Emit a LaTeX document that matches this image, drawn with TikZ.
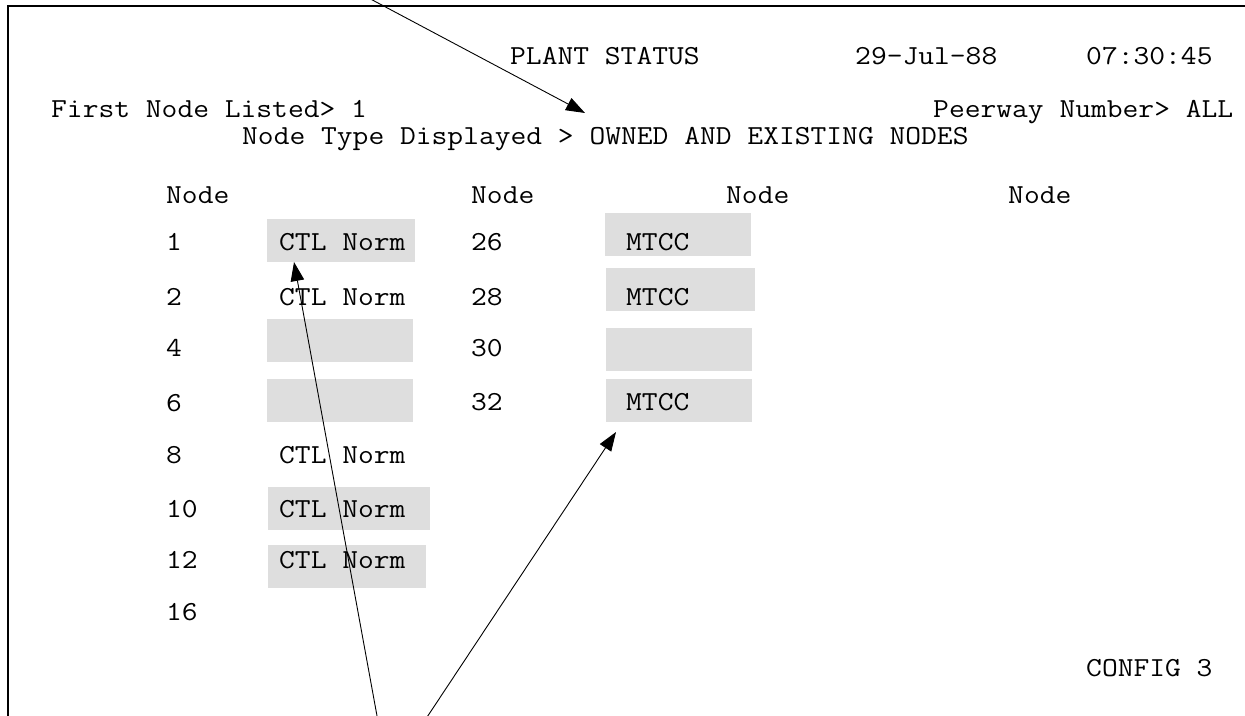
\documentclass[tikz,border=0pt]{standalone}
\usepackage{fontspec}
\newfontfamily\crtfont[FakeStretch=1.115]{Latin Modern Mono}
\usetikzlibrary{arrows.meta}
\definecolor{boxgray}{RGB}{222,222,222}
\tikzset{
  txt/.style={inner sep=0pt, anchor=base west, font=\fontsize{27.5}{32}\crtfont},
  gbox/.style={fill=boxgray, draw=none, inner sep=0pt, anchor=north west},
  conn/.style={line width=0.9pt, -{Triangle[length=19pt,width=13.5pt]}},
  frameline/.style={line width=1.2pt}
}
\begin{document}
\begin{tikzpicture}[x=1pt,y=-1pt]
\useasboundingbox (0,0) rectangle (1245,715);
\clip (0,0) rectangle (1245,715);
\fill[white] (0,0) rectangle (1245,715);
% frame (cut off at right and bottom)
\draw[frameline] (8,760) -- (8,6) -- (1260,6);
% grey boxes
\node[gbox, minimum width=148pt, minimum height=43pt] (c1box) at (267,219) {};
\node[gbox, minimum width=146pt, minimum height=43pt] (c4box) at (267,319) {};
\node[gbox, minimum width=146pt, minimum height=43pt] (c6box) at (267,379) {};
\node[gbox, minimum width=162pt, minimum height=43pt] (c10box) at (268,487) {};
\node[gbox, minimum width=158pt, minimum height=43pt] (c12box) at (268,545) {};
\node[gbox, minimum width=146pt, minimum height=43pt] (m26box) at (605,213) {};
\node[gbox, minimum width=149pt, minimum height=43pt] (m28box) at (606,268) {};
\node[gbox, minimum width=146pt, minimum height=43pt] (m30box) at (606,328) {};
\node[gbox, minimum width=146pt, minimum height=43pt] (m32box) at (606,379) {};
% header texts
\node[txt] (plant) at (510,64) {PLANT STATUS};
\node[txt] (date) at (855,64) {29-Jul-88};
\node[txt] (time) at (1086,64) {07:30:45};
\node[txt] (first) at (51,117) {First Node Listed> 1};
\node[txt] (peer) at (933,117) {Peerway Number> ALL};
\node[txt] (ntype) at (242,144) {Node Type Displayed > OWNED AND EXISTING NODES};
% column headers
\node[txt] (h1) at (166,203) {Node};
\node[txt] (h2) at (471,203) {Node};
\node[txt] (h3) at (726,203) {Node};
\node[txt] (h4) at (1008,203) {Node};
% column 1 numbers
\node[txt] (n1) at (166,250) {1};
\node[txt] (n2) at (166,305) {2};
\node[txt] (n4) at (166,356) {4};
\node[txt] (n6) at (166,411) {6};
\node[txt] (n8) at (166,463) {8};
\node[txt] (n10) at (166,517) {10};
\node[txt] (n12) at (166,568) {12};
\node[txt] (n16) at (166,620) {16};
% column 1 status
\node[txt] (s1) at (279,250) {CTL Norm};
\node[txt] (s2) at (279,305) {CTL Norm};
\node[txt] (s8) at (279,463) {CTL Norm};
\node[txt] (s10) at (279,517) {CTL Norm};
\node[txt] (s12) at (279,568) {CTL Norm};
% column 2 numbers
\node[txt] (n26) at (471,250) {26};
\node[txt] (n28) at (471,305) {28};
\node[txt] (n30) at (471,356) {30};
\node[txt] (n32) at (471,410) {32};
% column 2 status
\node[txt] (s26) at (626,250) {MTCC};
\node[txt] (s28) at (626,305) {MTCC};
\node[txt] (s32) at (626,410) {MTCC};
% footer
\node[txt] (config) at (1086,676) {CONFIG 3};
% callout arrows
\coordinate (srctop) at (331,-22);
\coordinate (tiptop) at (585,113);
\coordinate (srcbot) at (388,776);
\coordinate (tipctl) at (294,262);
\coordinate (tipmtcc) at (616,432);
\draw[conn] (srctop) -- (tiptop);
\draw[conn] (srcbot) -- (tipctl);
\draw[conn] (srcbot) -- (tipmtcc);
\end{tikzpicture}
\end{document}
